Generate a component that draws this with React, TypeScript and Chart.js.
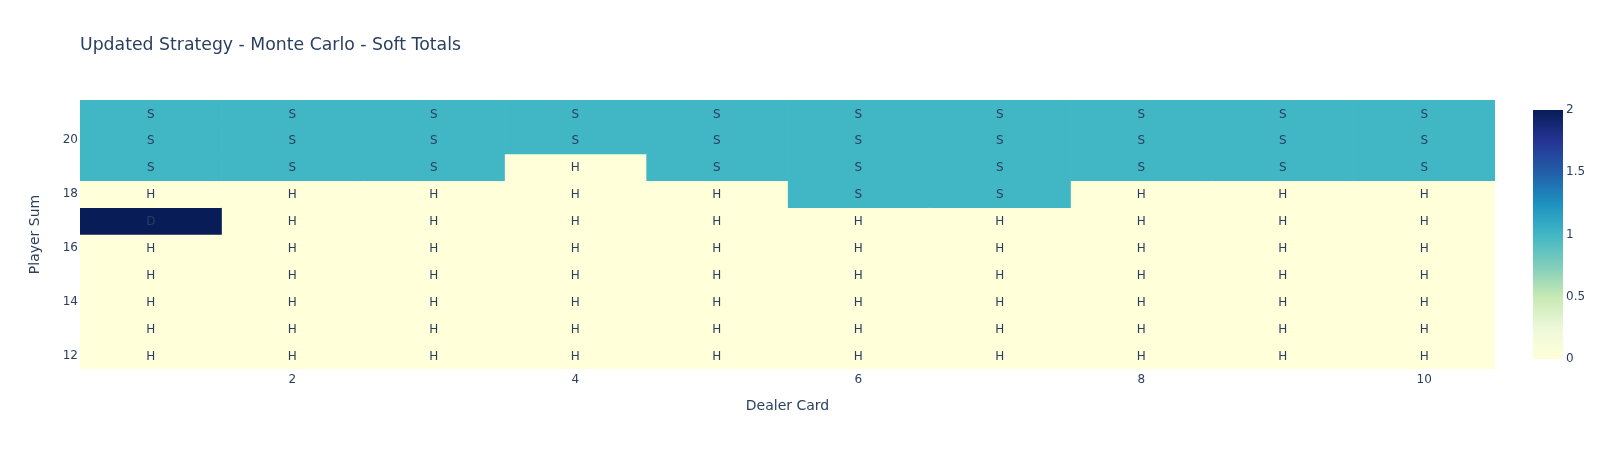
import React, { useEffect, useRef } from "react";
import { Chart, registerables } from "chart.js";

Chart.register(...registerables);

// ---- Data ----
const dealerCards = [1, 2, 3, 4, 5, 6, 7, 8, 9, 10];
const playerSums = [12, 13, 14, 15, 16, 17, 18, 19, 20, 21];

const row12 = ["H", "H", "H", "H", "H", "H", "H", "H", "H", "H"];
const row13 = ["H", "H", "H", "H", "H", "H", "H", "H", "H", "H"];
const row14 = ["H", "H", "H", "H", "H", "H", "H", "H", "H", "H"];
const row15 = ["H", "H", "H", "H", "H", "H", "H", "H", "H", "H"];
const row16 = ["H", "H", "H", "H", "H", "H", "H", "H", "H", "H"];
const row17 = ["D", "H", "H", "H", "H", "H", "H", "H", "H", "H"];
const row18 = ["H", "H", "H", "H", "H", "S", "S", "H", "H", "H"];
const row19 = ["S", "S", "S", "H", "S", "S", "S", "S", "S", "S"];
const row20 = ["S", "S", "S", "S", "S", "S", "S", "S", "S", "S"];
const row21 = ["S", "S", "S", "S", "S", "S", "S", "S", "S", "S"];
const actionRows = [row12, row13, row14, row15, row16, row17, row18, row19, row20, row21];

const actionValues: Record<string, number> = { H: 0, S: 1, D: 2 };

const xTickValues = [2, 4, 6, 8, 10];
const colorbarTicks = [0, 0.5, 1, 1.5, 2];
const zMin = 0;
const zMax = 2;

const titleText = "Updated Strategy - Monte Carlo - Soft Totals";
const xTitle = "Dealer Card";
const yTitle = "Player Sum";

// YlGnBu (reversed: low = light yellow, high = navy)
const colorStops: [number, number[]][] = [
  [0, [255, 255, 217]],
  [0.125, [237, 248, 217]],
  [0.25, [199, 233, 180]],
  [0.375, [127, 205, 187]],
  [0.5, [65, 182, 196]],
  [0.625, [29, 145, 192]],
  [0.75, [34, 94, 168]],
  [0.875, [37, 52, 148]],
  [1, [8, 29, 88]],
];

function colorFor(v: number): string {
  const t = Math.max(0, Math.min(1, (v - zMin) / (zMax - zMin)));
  for (let i = 1; i < colorStops.length; i++) {
    const [t1, c1] = colorStops[i];
    const [t0, c0] = colorStops[i - 1];
    if (t <= t1) {
      const f = (t - t0) / (t1 - t0);
      const c = c0.map((a, k) => Math.round(a + (c1[k] - a) * f));
      return `rgb(${c[0]},${c[1]},${c[2]})`;
    }
  }
  const c = colorStops[colorStops.length - 1][1];
  return `rgb(${c[0]},${c[1]},${c[2]})`;
}

const FONT = '"DejaVu Sans", Verdana, sans-serif';
const TEXT_COLOR = "#2a3f5f";

const overlayPlugin = {
  id: "overlay",
  afterDatasetsDraw(chart: any) {
    const { ctx, scales } = chart;
    const xs = scales.x;
    const ys = scales.y;
    ctx.save();
    ctx.font = `12px ${FONT}`;
    ctx.fillStyle = TEXT_COLOR;
    ctx.textAlign = "center";
    ctx.textBaseline = "middle";
    actionRows.forEach((row, i) => {
      row.forEach((a, j) => {
        const px = xs.getPixelForValue(dealerCards[j]);
        const py = ys.getPixelForValue(i);
        ctx.fillText(a, px, py + 1);
      });
    });
    ctx.restore();
  },
  afterDraw(chart: any) {
    const { ctx } = chart;
    ctx.save();
    ctx.font = `17.3px ${FONT}`;
    ctx.fillStyle = TEXT_COLOR;
    ctx.textAlign = "left";
    ctx.textBaseline = "middle";
    ctx.fillText(titleText, 80, 46);

    const cbLeft = 1533;
    const cbWidth = 30;
    const cbTop = 110;
    const cbBottom = 359;
    const grad = ctx.createLinearGradient(0, cbBottom, 0, cbTop);
    colorStops.forEach(([t]) => grad.addColorStop(t, colorFor(zMin + t * (zMax - zMin))));
    ctx.fillStyle = grad;
    ctx.fillRect(cbLeft, cbTop, cbWidth, cbBottom - cbTop);

    ctx.font = `12px ${FONT}`;
    ctx.fillStyle = TEXT_COLOR;
    ctx.textAlign = "left";
    ctx.textBaseline = "middle";
    colorbarTicks.forEach((v) => {
      const y = cbBottom - ((v - zMin) / (zMax - zMin)) * (cbBottom - cbTop);
      ctx.fillText(String(v), cbLeft + cbWidth + 3, y);
    });
    ctx.restore();
  },
};

export default function App() {
  const canvasRef = useRef<HTMLCanvasElement | null>(null);

  useEffect(() => {
    let chart: Chart | null = null;
    let cancelled = false;

    const build = () => {
      if (cancelled || !canvasRef.current) return;
      const datasets = dealerCards.map((d, j) => ({
        label: String(d),
        data: playerSums.map(() => [d - 0.5, d + 0.5]),
        backgroundColor: actionRows.map((row) => colorFor(actionValues[row[j]])),
        borderWidth: 0,
        barPercentage: 1,
        categoryPercentage: 1,
        grouped: false,
      }));

      chart = new Chart(canvasRef.current, {
        type: "bar",
        data: {
          labels: playerSums.map(String),
          datasets: datasets as any,
        },
        plugins: [overlayPlugin],
        options: {
          indexAxis: "y",
          animation: false,
          responsive: false,
          maintainAspectRatio: false,
          layout: { padding: { left: 0, top: 100, right: 110, bottom: 0 } },
          plugins: {
            legend: { display: false },
            tooltip: { enabled: false },
            title: { display: false },
          },
          scales: {
            x: {
              type: "linear",
              min: 0.5,
              max: 10.5,
              grid: { display: false, drawTicks: false },
              border: { display: false },
              afterBuildTicks: (scale: any) => {
                scale.ticks = xTickValues.map((v) => ({ value: v }));
              },
              afterFit: (scale: any) => {
                scale.height = 81;
              },
              ticks: {
                color: TEXT_COLOR,
                font: { family: FONT, size: 12 },
                padding: 4,
                maxRotation: 0,
                autoSkip: false,
                callback: (v: any) => String(v),
              },
              title: {
                display: true,
                text: xTitle,
                color: TEXT_COLOR,
                font: { family: FONT, size: 14 },
                padding: { top: 0, bottom: 35 },
              },
            },
            y: {
              type: "category",
              reverse: true,
              offset: true,
              grid: { display: false, drawTicks: false },
              border: { display: false },
              afterFit: (scale: any) => {
                scale.width = 80;
              },
              ticks: {
                color: TEXT_COLOR,
                font: { family: FONT, size: 12 },
                padding: 2,
                autoSkip: false,
                callback: (_v: any, idx: number) =>
                  playerSums[idx] % 2 === 0 ? String(playerSums[idx]) : "",
              },
              title: {
                display: true,
                text: yTitle,
                color: TEXT_COLOR,
                font: { family: FONT, size: 14 },
                padding: { top: 27, bottom: 0 },
              },
            },
          },
        } as any,
      });
    };

    const fontsReady = (document as any).fonts
      ? Promise.all([
          (document as any).fonts.load(`12px "DejaVu Sans"`),
          (document as any).fonts.load(`17px "DejaVu Sans"`),
        ]).catch(() => null)
      : Promise.resolve(null);
    fontsReady.then(build);

    return () => {
      cancelled = true;
      if (chart) chart.destroy();
    };
  }, []);

  return (
    <div style={{ position: "absolute", left: 0, top: 0, width: 1605, height: 450, background: "#fff" }}>
      <canvas ref={canvasRef} width={1605} height={450} style={{ display: "block" }} />
    </div>
  );
}
